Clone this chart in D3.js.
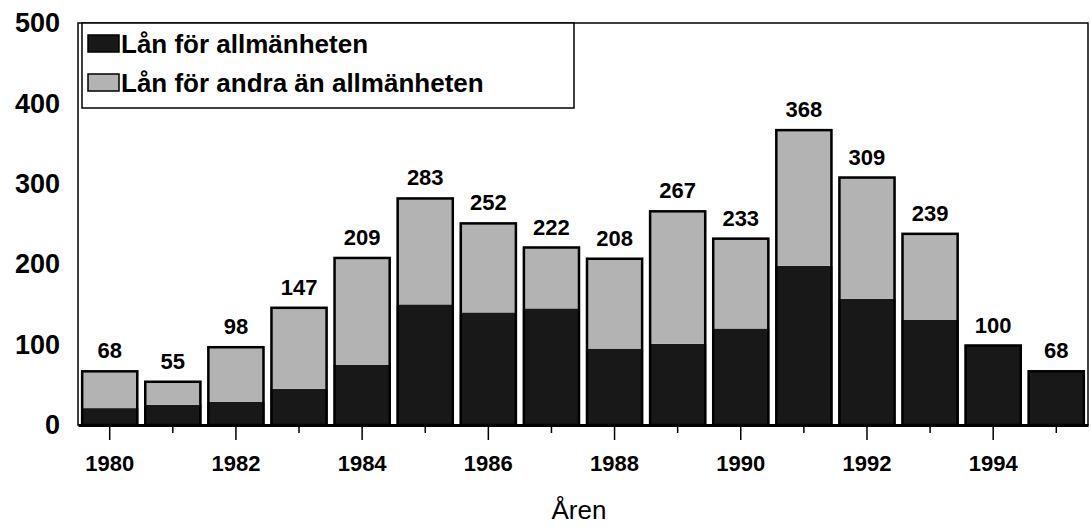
<!DOCTYPE html>
<html>
<head>
<meta charset="utf-8">
<script src="https://cdn.jsdelivr.net/npm/d3@7"></script>
<style>
  body { margin: 0; background: #fff; }
  text { font-family: "Liberation Sans", Arial, sans-serif; }
</style>
</head>
<body>
<div id="chart"></div>
<script>
// data
const years = [1980, 1981, 1982, 1983, 1984, 1985, 1986, 1987, 1988, 1989, 1990, 1991, 1992, 1993, 1994, 1995];
const totals = [68, 55, 98, 147, 209, 283, 252, 222, 208, 267, 233, 368, 309, 239, 100, 68];
const allmanheten = [21, 25, 29, 45, 75, 150, 140, 145, 95, 101, 120, 198, 157, 131, 100, 68];
const andra = totals.map((t, i) => t - allmanheten[i]);
const yTicks = [0, 100, 200, 300, 400, 500];
const seriesNames = ["Lån för allmänheten", "Lån för andra än allmänheten"];
const seriesColors = ["#181818", "#b3b3b3"];

const width = 1091, height = 527;
const margin = {top: 23, right: 3, bottom: 102, left: 78};

const svg = d3.select("#chart").append("svg")
    .attr("width", width)
    .attr("height", height);

const x = d3.scaleBand()
    .domain(years)
    .range([margin.left, width - margin.right])
    .paddingInner(0.095)
    .paddingOuter(0.05);

const y = d3.scaleLinear()
    .domain([0, 500])
    .range([height - margin.bottom, margin.top]);

// stacked data
const rows = years.map((yr, i) => ({year: yr, a: allmanheten[i], b: andra[i], total: totals[i]}));
const layers = d3.stack().keys(["a", "b"])(rows);

// frame
svg.append("rect")
    .attr("x", margin.left)
    .attr("y", y(500))
    .attr("width", width - margin.right - margin.left)
    .attr("height", y(0) - y(500))
    .attr("fill", "none")
    .attr("stroke", "#000")
    .attr("stroke-width", 1.5);

// bars
svg.append("g").selectAll("g")
    .data(layers)
    .enter().append("g")
    .attr("fill", (d, i) => seriesColors[i])
    .selectAll("rect")
    .data(d => d.filter(p => p[1] - p[0] > 0))
    .enter().append("rect")
    .attr("x", d => x(d.data.year))
    .attr("y", d => y(d[1]))
    .attr("width", x.bandwidth())
    .attr("height", d => y(d[0]) - y(d[1]));

// outline round each whole bar
svg.append("g").selectAll("rect")
    .data(rows)
    .enter().append("rect")
    .attr("x", d => x(d.year) + 1)
    .attr("y", d => y(d.total) + 1)
    .attr("width", x.bandwidth() - 2)
    .attr("height", d => y(0) - y(d.total) - 1)
    .attr("fill", "none")
    .attr("stroke", "#000")
    .attr("stroke-width", 2.5);

// value labels
svg.append("g").selectAll("text")
    .data(rows)
    .enter().append("text")
    .attr("x", d => x(d.year) + x.bandwidth() / 2)
    .attr("y", d => y(d.total) - 12)
    .attr("text-anchor", "middle")
    .attr("font-size", 22)
    .attr("font-weight", "bold")
    .text(d => d.total);

// x axis
const xAxis = svg.append("g")
    .attr("transform", `translate(0,${y(0)})`)
    .call(d3.axisBottom(x).tickSize(0).tickFormat(d => d % 2 === 0 ? d : ""));
xAxis.select(".domain").attr("stroke-width", 3);
xAxis.selectAll(".tick line")
    .attr("y2", d => d % 2 === 0 ? 15 : 8)
    .attr("stroke-width", 1.5);
xAxis.selectAll(".tick text")
    .attr("dy", 0)
    .attr("y", 46)
    .attr("font-size", 22)
    .attr("font-weight", "bold")
    .attr("fill", "#000")
    .attr("font-family", "Liberation Sans, Arial, sans-serif");

// y axis
const yAxis = svg.append("g")
    .attr("transform", `translate(${margin.left},0)`)
    .call(d3.axisLeft(y).tickValues(yTicks).tickSize(0).tickPadding(18));
yAxis.select(".domain").remove();
yAxis.selectAll(".tick text")
    .attr("font-size", 27)
    .attr("font-weight", "bold")
    .attr("fill", "#000")
    .attr("font-family", "Liberation Sans, Arial, sans-serif");

// axis title
svg.append("text")
    .attr("x", 579)
    .attr("y", 519)
    .attr("text-anchor", "middle")
    .attr("font-size", 26)
    .text("Åren");

// legend
const legend = svg.append("g").attr("transform", `translate(${margin.left + 4},${y(500)})`);
legend.append("rect")
    .attr("width", 492)
    .attr("height", 85)
    .attr("fill", "#fff")
    .attr("stroke", "#000")
    .attr("stroke-width", 1.5);
seriesNames.forEach((name, i) => {
    const row = legend.append("g").attr("transform", `translate(6,${12 + i * 39})`);
    row.append("rect")
        .attr("width", 31)
        .attr("height", 17)
        .attr("fill", seriesColors[i])
        .attr("stroke", "#000")
        .attr("stroke-width", 1.5);
    row.append("text")
        .attr("x", 33)
        .attr("y", 18)
        .attr("font-size", 26)
        .attr("font-weight", "bold")
        .text(name);
});
</script>
</body>
</html>
